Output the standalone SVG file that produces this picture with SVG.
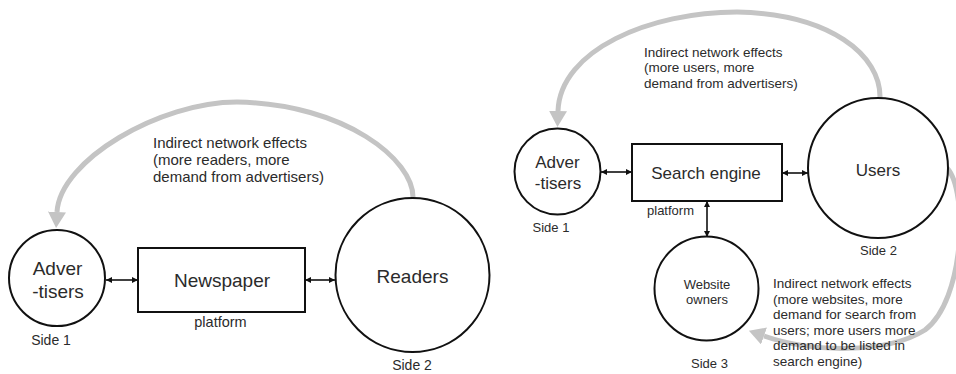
<svg xmlns="http://www.w3.org/2000/svg" width="956" height="374" viewBox="0 0 956 374">
  <defs>
    <style>
      .node { fill: #ffffff; stroke: #111111; stroke-width: 2; }
      .lbl { font-family: "Liberation Sans", Arial, sans-serif; fill: #2b2b2b; text-anchor: middle; }
      .note { font-family: "Liberation Sans", Arial, sans-serif; fill: #2b2b2b; }
      .link { stroke: #111111; stroke-width: 1.6; fill: none; marker-start: url(#tip); marker-end: url(#tip); }
      .effect { stroke: #c4c4c4; stroke-width: 5; fill: none; marker-end: url(#bigtip); }
    </style>
    <marker id="tip" viewBox="0 0 8 8" refX="8" refY="4" markerWidth="7" markerHeight="6" markerUnits="userSpaceOnUse" orient="auto-start-reverse">
      <path d="M0,0 L8,4 L0,8 Z" fill="#111111"/>
    </marker>
    <marker id="bigtip" viewBox="0 0 16 18" refX="0" refY="9" markerWidth="16" markerHeight="18" markerUnits="userSpaceOnUse" orient="auto">
      <path d="M0,0 L16,9 L0,18 Z" fill="#c4c4c4"/>
    </marker>
  </defs>

  <!-- indirect network effect loops (drawn first so labels sit on top) -->
  <g id="connectors">
    <path class="effect" d="M413,198 C414,160 345,104 237,102 C160,102 60,160 57,212"/>
    <path class="effect" d="M880,98 C881,55 830,14 737,12 C650,12 560,50 558,111"/>
    <path class="effect" d="M947,168 C968,190 965,300 925,330 C885,355 810,352 764,336"/>

    <line class="link" x1="106" y1="280" x2="138" y2="280"/>
    <line class="link" x1="305" y1="280" x2="335" y2="280"/>
    <line class="link" x1="601" y1="172" x2="632" y2="172"/>
    <line class="link" x1="782" y1="173" x2="808" y2="173"/>
    <line class="link" x1="707" y1="201" x2="707" y2="237"/>
  </g>

  <!-- newspaper platform -->
  <g id="news-advertisers">
    <circle class="node" cx="57" cy="278" r="48"/>
    <text class="lbl" x="57.5" y="275" font-size="19">Adver</text>
    <text class="lbl" x="58" y="298" font-size="19">-tisers</text>
    <text class="lbl" x="51" y="345" font-size="14">Side 1</text>
  </g>
  <g id="news-platform">
    <rect class="node" x="138" y="248" width="167" height="64"/>
    <text class="lbl" x="222" y="287" font-size="19">Newspaper</text>
    <text class="lbl" x="220.5" y="327" font-size="14.5">platform</text>
  </g>
  <g id="news-readers">
    <circle class="node" cx="412.5" cy="275" r="77"/>
    <text class="lbl" x="412.5" y="283" font-size="19">Readers</text>
    <text class="lbl" x="412" y="370" font-size="14">Side 2</text>
  </g>
  <text class="note" font-size="15" x="153" y="148">Indirect network effects</text>
  <text class="note" font-size="15" x="153" y="165">(more readers, more</text>
  <text class="note" font-size="15" x="153" y="182">demand from advertisers)</text>

  <!-- search engine platform -->
  <g id="search-advertisers">
    <circle class="node" cx="557.5" cy="171.5" r="43"/>
    <text class="lbl" x="557.5" y="168" font-size="17">Adver</text>
    <text class="lbl" x="558" y="189" font-size="17">-tisers</text>
    <text class="lbl" x="551" y="232" font-size="13">Side 1</text>
  </g>
  <g id="search-platform">
    <rect class="node" x="632" y="144" width="150" height="57"/>
    <text class="lbl" x="706" y="179" font-size="17">Search engine</text>
    <text class="lbl" x="670.5" y="215" font-size="13">platform</text>
  </g>
  <g id="search-users">
    <circle class="node" cx="878" cy="168" r="70"/>
    <text class="lbl" x="878" y="176" font-size="17">Users</text>
    <text class="lbl" x="878.5" y="255" font-size="13">Side 2</text>
  </g>
  <g id="search-websites">
    <circle class="node" cx="706.5" cy="288.5" r="52"/>
    <text class="lbl" x="707" y="289" font-size="13">Website</text>
    <text class="lbl" x="707" y="304" font-size="13">owners</text>
    <text class="lbl" x="709.5" y="368" font-size="13">Side 3</text>
  </g>
  <text class="note" font-size="13.5" x="644" y="56.5">Indirect network effects</text>
  <text class="note" font-size="13.5" x="644" y="72">(more users, more</text>
  <text class="note" font-size="13.5" x="644" y="87.5">demand from advertisers)</text>

  <text class="note" font-size="13.5" x="773" y="288">Indirect network effects</text>
  <text class="note" font-size="13.5" x="773" y="303.5">(more websites, more</text>
  <text class="note" font-size="13.5" x="773" y="319">demand for search from</text>
  <text class="note" font-size="13.5" x="773" y="334.5">users; more users more</text>
  <text class="note" font-size="13.5" x="773" y="350">demand to be listed in</text>
  <text class="note" font-size="13.5" x="773" y="365.5">search engine)</text>
</svg>
